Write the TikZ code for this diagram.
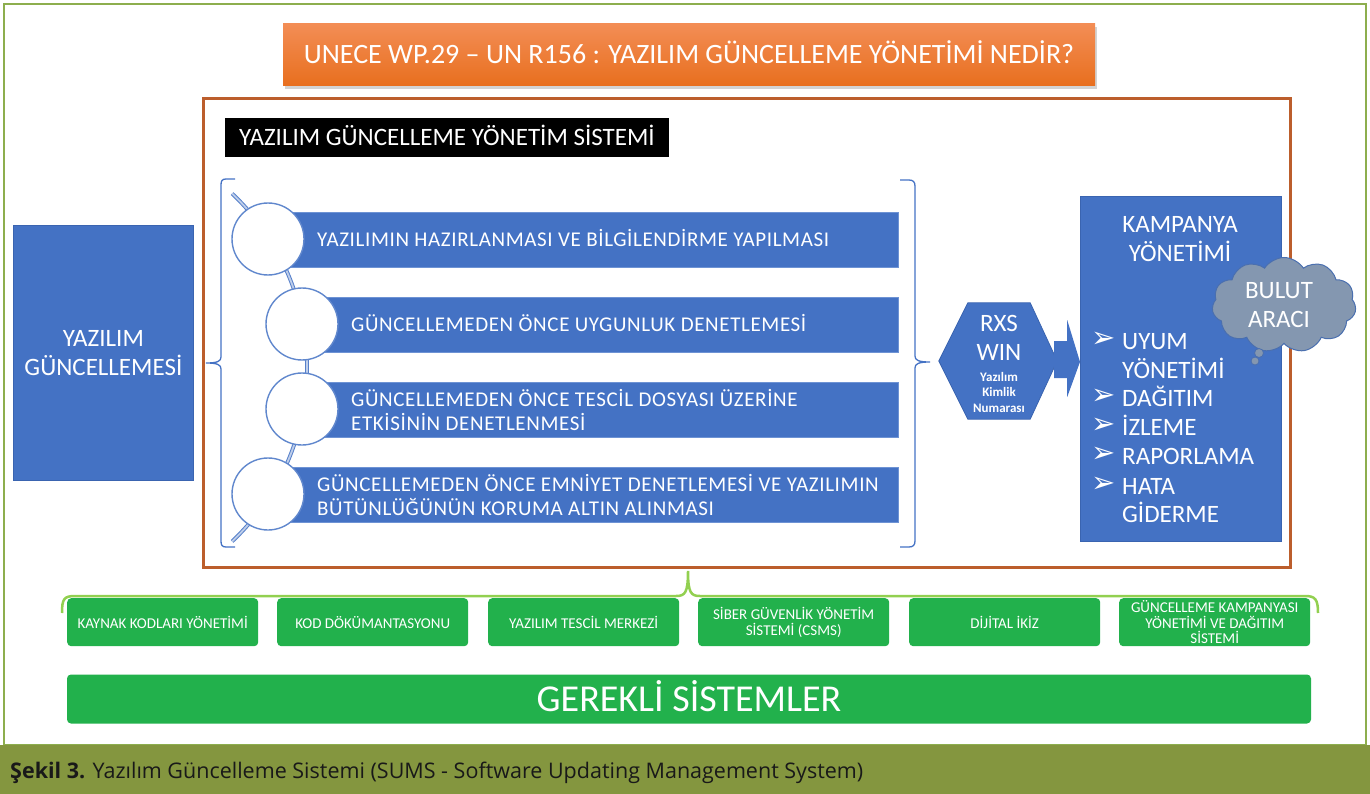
\documentclass[tikz,border=0pt]{standalone}
\usepackage{fontspec}
\setmainfont{Carlito}
\newfontfamily\symfont{DejaVu Sans}
\newfontfamily\captionfont{Open Sans}
\usetikzlibrary{shapes.geometric,shapes.symbols,shadows,calc}

\definecolor{sumsblue}{HTML}{4472C4}
\definecolor{sumsedge}{HTML}{3A64B0}
\definecolor{sumslight}{HTML}{6E93D4}
\definecolor{framebrown}{HTML}{BC5E2C}
\definecolor{orangetop}{HTML}{F38D55}
\definecolor{orangebot}{HTML}{E86F1E}
\definecolor{reqgreen}{HTML}{22B14C}
\definecolor{bracegreen}{HTML}{92D050}
\definecolor{capband}{HTML}{84963F}
\definecolor{cloudfill}{HTML}{8497B0}
\definecolor{cloudedge}{HTML}{4A6FAF}
\definecolor{outerline}{HTML}{8DAE4E}

\tikzset{
  wtext/.style={text=white, inner sep=0pt},
  boxfill/.style={fill=sumsblue, draw=sumsedge, line width=0.8pt, inner sep=0pt},
  stepbar/.style={fill=sumsblue, draw=sumslight, line width=0.8pt, inner sep=0pt,
    minimum height=55pt, anchor=west},
  stepdot/.style={circle, fill=white, draw=sumsblue!85, line width=1.4pt,
    minimum size=72pt, inner sep=0pt},
  steptext/.style={wtext, anchor=west, align=left,
    font=\fontsize{21}{24}\selectfont\addfontfeature{LetterSpace=3}},
  chain/.style={draw=sumsblue!90, double=sumsblue!35, line width=1pt, double distance=1.8pt},
  bracket/.style={draw=sumsblue, line width=1.3pt},
  reqbox/.style={fill=reqgreen, rounded corners=4pt, inner sep=0pt,
    minimum width=191pt, minimum height=48pt, anchor=north west},
  reqtext/.style={wtext, align=center, font=\fontsize{15}{15.5}\selectfont},
  bigtext/.style={wtext, align=center, font=\fontsize{25}{29}\selectfont},
  listtext/.style={wtext, anchor=west, text height=16pt, text depth=0pt,
    font=\fontsize{25}{29}\selectfont},
}

\begin{document}
\begin{tikzpicture}[x=1pt,y=-1pt]
\useasboundingbox (0,0) rectangle (1370,794);

% page frame and caption band
\draw[outerline, line width=1.2pt] (4,4) rectangle (1366,745);
\fill[capband] (0,745) rectangle (1370,794);
\node[anchor=west, inner sep=0pt, text=black!90, font=\captionfont\fontsize{21.5}{25}\selectfont]
  (caption) at (10,773)
  {\textbf{Şekil 3.} Yazılım Güncelleme Sistemi (SUMS - Software Updating Management System)};

% title banner
\node[shading=axis, top color=orangetop, bottom color=orangebot,
  drop shadow={shadow xshift=1.5pt, shadow yshift=-3pt, opacity=0.35},
  minimum width=812pt, minimum height=62pt, inner sep=0pt, text=white,
  text height=18pt, text depth=0pt, font=\fontsize{28}{32}\selectfont]
  (title) at (689,55) {UNECE WP.29 – UN R156 : YAZILIM GÜNCELLEME YÖNETİMİ NEDİR?};

% management system frame
\draw[framebrown, line width=3pt] (203,99) rectangle (1290,567);
\node[fill=black, minimum width=444pt, minimum height=39pt, inner sep=0pt,
  text=white, text height=16pt, text depth=0pt, font=\fontsize{25}{28}\selectfont]
  (sysname) at (447,137.5) {YAZILIM GÜNCELLEME YÖNETİM SİSTEMİ};

% software update box
\node[boxfill, minimum width=180pt, minimum height=255pt, anchor=north west]
  (update) at (13,225) {};
\node[bigtext] (updatetext) at (update.center) {YAZILIM\\GÜNCELLEMESİ};

% left bracket
\draw[bracket] (235,179) -- (226,179) .. controls (222,179) and (221,181) .. (221,185)
  -- (221,357) .. controls (221,361) and (218,363) .. (206,363)
  .. controls (218,363) and (221,365) .. (221,369) -- (221,541)
  .. controls (221,545) and (222,547) .. (226,547) -- (235,547);

% right bracket
\draw[bracket] (900,180) -- (909,180) .. controls (913,180) and (915,182) .. (915,186)
  -- (915,356) .. controls (915,360) and (918,362) .. (930,362)
  .. controls (918,362) and (915,364) .. (915,368) -- (915,541)
  .. controls (915,545) and (913,547) .. (909,547) -- (900,547);

% chain joining the steps
\draw[chain] (67.6,367.5) ++(-46.6:239.4) arc[start angle=-46.6, end angle=46.6, radius=239.4];

% step bars
\node[stepbar, minimum width=630pt] (bar1) at (268,239.5) {};
\node[stepbar, minimum width=596pt] (bar2) at (302,324.5) {};
\node[stepbar, minimum width=596pt] (bar3) at (302,409.5) {};
\node[stepbar, minimum width=630pt] (bar4) at (268,494.5) {};

\node[stepdot] (dot1) at (268,239) {};
\node[stepdot] (dot2) at (302,324) {};
\node[stepdot] (dot3) at (302,409) {};
\node[stepdot] (dot4) at (268,494) {};

\node[steptext, text height=13.5pt, text depth=0pt] (step1) at (317,240)
  {YAZILIMIN HAZIRLANMASI VE BİLGİLENDİRME YAPILMASI};
\node[steptext, text height=13.5pt, text depth=0pt] (step2) at (351,325)
  {GÜNCELLEMEDEN ÖNCE UYGUNLUK DENETLEMESİ};
\node[steptext] (step3) at (351,410)
  {GÜNCELLEMEDEN ÖNCE TESCİL DOSYASI ÜZERİNE\\ETKİSİNİN DENETLENMESİ};
\node[steptext] (step4) at (317,495)
  {GÜNCELLEMEDEN ÖNCE EMNİYET DENETLEMESİ VE YAZILIMIN\\BÜTÜNLÜĞÜNÜN KORUMA ALTIN ALINMASI};

% identification number hexagon
\node[minimum width=118pt, minimum height=116pt, inner sep=0pt] (hex) at (998,361) {};
\fill[sumsblue, draw=sumsedge, line width=0.8pt] (hex.west)
  -- ($(hex.north west)+(29,0)$) -- ($(hex.north east)+(-27,0)$) -- (hex.east)
  -- ($(hex.south east)+(-27,0)$) -- ($(hex.south west)+(29,0)$) -- cycle;
\node[wtext, font=\fontsize{25}{29}\selectfont, text height=16pt, text depth=0pt]
  (rxs) at (999,323) {RXS};
\node[wtext, font=\fontsize{25}{29}\selectfont, text height=16pt, text depth=0pt]
  (win) at (999,352) {WIN};
\node[wtext, align=center, font=\bfseries\fontsize{13}{15.5}\selectfont]
  (winlabel) at (999,392) {Yazılım\\Kimlik\\Numarası};

% campaign management box
\node[boxfill, minimum width=201pt, minimum height=345pt, anchor=north west]
  (camp) at (1080,196) {};
\fill[sumsblue] ($(hex.east)+(-3,-20)$) -- ($(hex.east)+(10,-20)$)
  -- ($(hex.east)+(10,-41)$) -- ($(camp.west)+(0,-7)$)
  -- ($(hex.east)+(10,36)$) -- ($(hex.east)+(10,17)$)
  -- ($(hex.east)+(-3,17)$) -- cycle;
\node[bigtext] (camptitle) at (1180,239) {KAMPANYA\\YÖNETİMİ};

\foreach \yy/\mk/\item in {341/➢/UYUM, 370//YÖNETİMİ, 398/➢/DAĞITIM,
    427/➢/İZLEME, 456/➢/RAPORLAMA, 486/➢/HATA, 514//GİDERME} {
  \node[listtext, text height=13pt, font=\fontsize{29}{32}\symfont] at (1091,\yy) {\mk};
  \node[listtext] at (1122,\yy) {\item};
}

% cloud tool
\node[cloud, cloud puffs=11, cloud puff arc=115, aspect=1.5, fill=cloudfill,
  draw=cloudedge, line width=1pt, minimum width=144pt, minimum height=95pt, inner sep=0pt]
  (cloud) at (1284,305) {};
\node[bigtext] (cloudtext) at (1279,305) {BULUT\\ARACI};
\draw[cloudedge, fill=cloudfill, line width=0.8pt] (1259,353) circle[radius=4.5pt];
\draw[cloudedge, fill=cloudfill, line width=0.8pt] (1255,361) circle[radius=4pt];

% required systems brace
\draw[bracegreen, line width=2.5pt] (62,613) .. controls (62,599) and (64,596) .. (75,596)
  -- (676,596) .. controls (685,596) and (688,593) .. (688,571)
  .. controls (688,593) and (691,596) .. (700,596)
  -- (1305,596) .. controls (1315,596) and (1318,599) .. (1318,613);

\node[reqbox] (req1) at (67,598) {};
\node[reqbox] (req2) at (277,598) {};
\node[reqbox] (req3) at (488,598) {};
\node[reqbox] (req4) at (698,598) {};
\node[reqbox] (req5) at (909,598) {};
\node[reqbox] (req6) at (1119,598) {};
\node[reqtext] at (req1.center) {KAYNAK KODLARI YÖNETİMİ};
\node[reqtext] at (req2.center) {KOD DÖKÜMANTASYONU};
\node[reqtext] at (req3.center) {YAZILIM TESCİL MERKEZİ};
\node[reqtext] at (req4.center) {SİBER GÜVENLİK YÖNETİM\\SİSTEMİ (CSMS)};
\node[reqtext] at (req5.center) {DİJİTAL İKİZ};
\node[reqtext] at (req6.center) {GÜNCELLEME KAMPANYASI\\YÖNETİMİ VE DAĞITIM\\SİSTEMİ};

\node[fill=reqgreen, rounded corners=4pt, minimum width=1244pt, minimum height=49pt,
  inner sep=0pt, text=white, text height=24pt, text depth=0pt,
  font=\fontsize{38}{42}\selectfont] (required) at (689,699) {GEREKLİ SİSTEMLER};
\end{tikzpicture}
\end{document}
